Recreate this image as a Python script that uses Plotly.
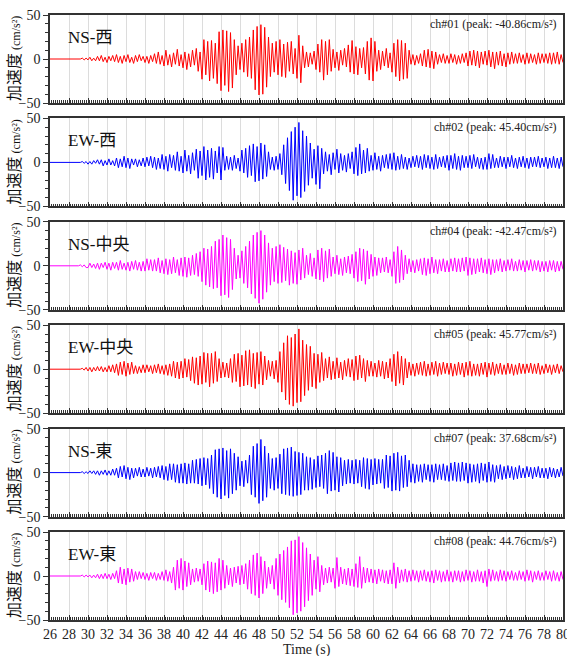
import plotly.graph_objects as go
from plotly.subplots import make_subplots

# ---------------- data ----------------
T_START = 29.0      # first sample after the quiet lead-in
DT = 0.2            # sampling step of the listed extremes (s)
T_QUIET = 26.0      # start of record (zero acceleration)

ns_west = [
    0, 0, 1, -1, 1,   -1, 2, -2, 1, -2,   3, -2, 4, -3, 2,   -4, 3, -2, 4, -3,
    5, -4, 3, -5, 4,   -3, 5, -4, 2, -5,   4, -3, 5, -2, 3,   -4, 3, -5, 4, -3,
    6, -5, 8, -6, 4,   -8, 10, -7, 5, -9,   7, -6, 11, -8, 5,   -10, 8, -12, 6, -9,
    10, -7, 12, -14, 8,   -23, 22, -18, 20, -25,   21, -22, 18, -28, 31,   -36, 33, -30, 32, -37,
    30, -33, 22, -18, 15,   -12, 18, -15, 22, -20,   25, -22, 33, -35, 37,   -40.86, 39, -40, 36, -32,
    25, -20, 18, -15, 20,   -18, 22, -20, 17, -21,   19, -14, 20, -17, 12,   -22, 27, -27, 15, -10,
    8, -9, 7, -6, 9,   -12, 17, -15, 22, -24,   20, -18, 22, -14, 11,   -10, 8, -13, 10, -7,
    12, -9, 16, -15, 21,   -17, 14, -18, 12, -10,   13, -17, 20, -24, 24,   -25, 20, -14, 10, -12,
    9, -8, 12, -10, 7,   -15, 18, -20, 22, -25,   21, -23, 18, -22, 10,   -6, 5, -7, 4, -5,
    6, -8, 10, -9, 11,   -10, 9, -11, 8, -6,   5, -4, 6, -5, 4,   -5, 6, -4, 5, -6,
    4, -5, 6, -4, 7,   -8, 9, -7, 10, -8,   9, -10, 8, -6, 9,   -7, 10, -9, 8, -11,
    8, -7, 9, -8, 6,   -9, 7, -6, 8, -5,   6, -5, 7, -4, 5,   -6, 7, -5, 6, -4,
    5, -6, 7, -5, 6,   -4, 6, -5, 7, -6,   7, -5, 8, -6, 5,   -4,
]

ew_west = [
    0, 0, 1, -1, 1,   -2, 1, -2, 2, -1,   3, -2, 3, -4, 2,   -3, 4, -3, 2, -4,
    5, -6, 4, -5, 7,   -6, 5, -7, 4, -3,   4, -5, 3, -4, 5,   -5, 6, -4, 7, -6,
    6, -8, 5, -7, 9,   -8, 7, -10, 9, -6,   8, -9, 12, -10, 7,   -12, 14, -10, 8, -13,
    11, -9, 15, -18, 13,   -15, 18, -20, 14, -17,   16, -19, 13, -12, 18,   -20, 17, -9, 7, -8,
    6, -9, 8, -7, 5,   -10, 14, -12, 16, -17,   19, -15, 21, -22, 18,   -21, 22, -19, 20, -16,
    12, -8, 6, -9, 7,   -8, 10, -14, 20, -24,   28, -32, 35, -43, 40,   -38, 45.40, -40, 36, -33,
    30, -26, 22, -18, 15,   -25, 19, -30, 16, -13,   12, -10, 9, -14, 11,   -8, 15, -12, 10, -9,
    8, -11, 10, -7, 12,   -13, 17, -15, 21, -13,   14, -12, 16, -10, 8,   -9, 11, -8, 7, -10,
    8, -6, 9, -7, 10,   -8, 11, -9, 7, -8,   9, -7, 6, -8, 5,   -6, 7, -5, 8, -6,
    7, -8, 9, -6, 8,   -7, 6, -8, 9, -7,   6, -5, 7, -6, 8,   -9, 8, -7, 10, -8,
    7, -9, 8, -6, 7,   -6, 8, -7, 9, -5,   6, -7, 5, -8, 6,   -8, 10, -7, 9, -6,
    5, -6, 7, -5, 6,   -7, 6, -5, 8, -6,   5, -7, 6, -5, 7,   -6, 5, -7, 6, -5,
    6, -5, 7, -6, 5,   -5, 6, -7, 5, -6,   7, -6, 5, -7, 6,   -5,
]

ns_center = [
    0, 1, -1, 1, -2,   -2, 3, -2, 2, -3,   3, -4, 3, -2, 4,   -4, 3, -5, 4, -3,
    4, -5, 6, -4, 3,   -5, 4, -6, 5, -4,   6, -5, 4, -6, 5,   -6, 8, -5, 7, -6,
    7, -6, 9, -8, 6,   -9, 8, -10, 7, -9,   10, -8, 7, -11, 9,   -12, 10, -13, 9, -11,
    12, -10, 14, -12, 16,   -18, 20, -22, 19, -24,   22, -26, 28, -25, 30,   -34, 35, -33, 32, -36,
    30, -27, 20, -15, 12,   -14, 17, -20, 22, -25,   28, -32, 35, -37, 38,   -42.47, 40, -38, 35, -30,
    26, -22, 20, -18, 22,   -20, 24, -19, 21, -17,   19, -22, 17, -20, 15,   -21, 18, -16, 20, -14,
    12, -10, 14, -12, 9,   -15, 18, -16, 20, -18,   17, -14, 19, -12, 10,   -9, 12, -10, 8, -11,
    10, -8, 11, -9, 13,   -14, 16, -18, 20, -17,   19, -21, 17, -15, 13,   -12, 10, -11, 9, -8,
    9, -7, 10, -8, 7,   -12, 16, -20, 22, -19,   18, -16, 12, -9, 8,   -7, 6, -8, 7, -6,
    8, -10, 9, -11, 8,   -9, 10, -8, 7, -9,   7, -6, 8, -7, 6,   -7, 8, -6, 9, -7,
    8, -7, 9, -6, 10,   -11, 9, -10, 8, -9,   8, -7, 9, -8, 7,   -9, 8, -10, 7, -8,
    7, -6, 8, -7, 6,   -6, 7, -5, 8, -6,   5, -6, 7, -5, 6,   -7, 6, -5, 7, -6,
    6, -5, 6, -7, 5,   -6, 5, -7, 6, -5,   6, -7, 5, -6, 5,   -4,
]

ew_center = [
    0, 0, 1, -1, 2,   -2, 2, -3, 2, -2,   3, -2, 3, -3, 2,   -3, 4, -3, 5, -4,
    6, -7, 8, -6, 9,   -8, 7, -6, 8, -5,   4, -5, 3, -4, 5,   -4, 5, -3, 4, -5,
    5, -4, 6, -5, 4,   -6, 5, -7, 6, -8,   9, -10, 8, -11, 9,   -10, 12, -9, 11, -13,
    14, -16, 13, -18, 15,   -17, 19, -15, 18, -20,   18, -16, 20, -14, 12,   -10, 8, -9, 7, -10,
    12, -15, 17, -14, 18,   -20, 16, -19, 21, -18,   22, -20, 18, -22, 19,   -17, 20, -18, 15, -12,
    10, -8, 9, -11, 10,   -15, 20, -26, 30, -35,   38, -40, 36, -42, 40,   -38, 45.77, -37, 33, -30,
    28, -24, 26, -20, 18,   -22, 17, -15, 19, -13,   12, -10, 14, -12, 9,   -11, 13, -10, 8, -12,
    10, -8, 12, -9, 11,   -13, 15, -12, 16, -10,   12, -14, 10, -8, 9,   -8, 7, -9, 10, -8,
    9, -11, 8, -10, 12,   -14, 17, -19, 20, -16,   15, -18, 12, -10, 8,   -7, 6, -8, 7, -6,
    8, -7, 9, -8, 6,   -7, 8, -6, 9, -8,   7, -6, 8, -5, 7,   -6, 7, -8, 6, -7,
    8, -6, 7, -9, 8,   -7, 9, -8, 6, -7,   6, -8, 7, -6, 8,   -9, 7, -6, 8, -7,
    6, -5, 7, -6, 5,   -6, 7, -5, 6, -7,   5, -6, 7, -5, 6,   -5, 6, -4, 7, -5,
    6, -5, 7, -6, 4,   -5, 6, -4, 5, -6,   5, -4, 6, -5, 4,   -3,
]

ns_east = [
    0, 0, 1, -1, 1,   -1, 2, -1, 2, -2,   2, -3, 2, -2, 3,   -3, 2, -3, 4, -3,
    5, -6, 7, -5, 8,   -7, 6, -8, 5, -6,   5, -4, 6, -5, 4,   -5, 6, -4, 5, -6,
    6, -5, 7, -6, 8,   -8, 7, -9, 10, -8,   10, -11, 9, -12, 10,   -12, 11, -13, 10, -12,
    14, -12, 15, -13, 16,   -15, 17, -14, 16, -18,   20, -24, 26, -28, 27,   -30, 28, -26, 25, -29,
    27, -24, 22, -20, 18,   -15, 13, -16, 14, -12,   20, -25, 30, -28, 33,   -35, 37.68, -32, 30, -28,
    22, -18, 16, -20, 17,   -18, 21, -24, 27, -25,   28, -26, 29, -27, 24,   -26, 23, -25, 22, -20,
    18, -20, 17, -19, 15,   -17, 19, -16, 20, -18,   22, -24, 25, -21, 23,   -20, 18, -22, 17, -15,
    14, -13, 15, -12, 14,   -13, 15, -12, 14, -16,   17, -18, 16, -19, 15,   -14, 16, -13, 15, -12,
    15, -18, 20, -17, 19,   -21, 22, -20, 23, -21,   19, -17, 20, -16, 14,   -11, 10, -12, 9, -10,
    9, -11, 10, -8, 9,   -10, 9, -11, 10, -8,   9, -8, 10, -9, 8,   -10, 11, -9, 12, -10,
    11, -10, 12, -9, 11,   -12, 10, -11, 9, -10,   10, -12, 11, -9, 10,   -11, 12, -10, 9, -11,
    8, -7, 9, -8, 7,   -7, 8, -6, 7, -8,   6, -7, 8, -6, 5,   -6, 7, -5, 6, -7,
    6, -5, 7, -6, 5,   -6, 5, -7, 6, -5,   5, -6, 4, -5, 6,   -4,
]

ew_east = [
    0, 0, 1, -1, 1,   -1, 1, -2, 1, -2,   2, -3, 2, -3, 3,   -3, 2, -4, 3, -3,
    6, -8, 10, -9, 8,   -10, 9, -7, 8, -6,   5, -4, 5, -3, 4,   -4, 3, -5, 4, -3,
    4, -5, 3, -4, 5,   -5, 7, -6, 5, -8,   10, -16, 18, -14, 20,   -16, 17, -12, 15, -10,
    8, -7, 9, -6, 8,   -10, 14, -16, 17, -18,   16, -20, 15, -18, 20,   -16, 18, -14, 12, -10,
    9, -12, 10, -8, 11,   -10, 12, -9, 14, -15,   18, -20, 24, -22, 26,   -25, 22, -20, 17, -14,
    10, -9, 12, -15, 20,   -22, 25, -27, 29, -30,   33, -36, 40, -44, 41,   -42, 44.76, -40, 38, -35,
    32, -28, 25, -22, 18,   -15, 22, -18, 12, -10,   9, -8, 10, -7, 9,   -14, 21, -12, 10, -9,
    8, -10, 9, -11, 8,   -12, 14, -13, 22, -14,   10, -8, 9, -7, 8,   -8, 7, -9, 8, -6,
    7, -8, 6, -9, 7,   -9, 15, -14, 10, -8,   7, -6, 8, -7, 6,   -6, 7, -5, 6, -7,
    6, -5, 7, -6, 5,   -7, 6, -8, 7, -5,   6, -7, 5, -6, 7,   -6, 5, -7, 6, -5,
    6, -7, 5, -6, 7,   -5, 6, -7, 5, -6,   7, -6, 5, -8, 6,   -12, 8, -6, 7, -5,
    5, -6, 7, -5, 6,   -6, 5, -4, 6, -5,   4, -5, 6, -4, 5,   -6, 7, -5, 6, -7,
    5, -4, 6, -5, 4,   -5, 6, -4, 5, -6,   6, -5, 4, -6, 5,   -4,
]

series = [ns_west, ew_west, ns_center, ew_center, ns_east, ew_east]
panel_labels = ["NS-西", "EW-西", "NS-中央", "EW-中央", "NS-東", "EW-東"]
channel_labels = ["ch#01", "ch#02", "ch#04", "ch#05", "ch#07", "ch#08"]
peak_values = [-40.86, 45.40, -42.47, 45.77, 37.68, 44.76]
line_colors = ["#ff0000", "#0000ff", "#ff00ff", "#ff0000", "#0000ff", "#ff00ff"]

X_RANGE = [26, 80]
Y_RANGE = [-50, 50]
x_tick_vals = list(range(26, 81, 2))
y_tick_vals = [-50, 0, 50]

# ---------------- figure ----------------
W, H = 567, 656
ML, MR, MT, MB = 50, 4, 15, 36
plot_h = H - MT - MB
panel_px = 88
step_px = 103.4

fig = make_subplots(rows=6, cols=1, shared_xaxes=False)

SERIF = "Times New Roman, Liberation Serif, serif"
AXIS_COLOR = "#333333"

for k, vals in enumerate(series):
    t = [T_QUIET] + [round(T_START + DT * i, 2) for i in range(len(vals))]
    y = [0] + vals
    fig.add_trace(
        go.Scatter(x=t, y=y, mode="lines",
                   line=dict(color=line_colors[k], width=1),
                   hoverinfo="skip", showlegend=False),
        row=k + 1, col=1)

    top = step_px * k
    bot = top + panel_px
    dom = [1 - bot / plot_h, 1 - top / plot_h]
    yname = "yaxis" if k == 0 else f"yaxis{k+1}"
    xname = "xaxis" if k == 0 else f"xaxis{k+1}"

    fig.layout[yname].update(
        domain=dom, range=Y_RANGE, tickvals=y_tick_vals,
        ticks="outside", ticklen=5, tickcolor=AXIS_COLOR,
        minor=dict(dtick=10, tick0=0, ticks="outside", ticklen=3, tickcolor=AXIS_COLOR, showgrid=False),
        showgrid=False, zeroline=False, automargin=False,
        showline=True, linecolor=AXIS_COLOR, linewidth=1.5, mirror=True,
        tickfont=dict(family=SERIF, size=14, color="#222222"),
    )
    fig.layout[xname].update(
        range=X_RANGE, tickvals=x_tick_vals,
        ticks="inside", ticklen=5, tickcolor=AXIS_COLOR,
        minor=dict(dtick=0.2, tick0=26, ticks="inside", ticklen=3, tickcolor=AXIS_COLOR, showgrid=False),
        showgrid=True, gridcolor="#dcdcdc", gridwidth=1,
        zeroline=False, automargin=False,
        showline=True, linecolor=AXIS_COLOR, linewidth=1.5, mirror=True,
        showticklabels=(k == 5), ticklabeloverflow="allow",
        tickfont=dict(family=SERIF, size=14, color="#222222"),
    )

    # panel name (top-left)
    fig.add_annotation(
        xref="paper", yref="paper", x=0, y=dom[1],
        xanchor="left", yanchor="top", xshift=16, yshift=-11,
        text=panel_labels[k], showarrow=False,
        font=dict(family="Times New Roman, Liberation Serif, Noto Sans CJK JP", size=17, color="#111111"))
    # channel / peak (top-right)
    fig.add_annotation(
        xref="paper", yref="paper", x=1, y=dom[1],
        xanchor="right", yanchor="top", xshift=-4, yshift=0,
        text=f"{channel_labels[k]} (peak: {peak_values[k]:.2f}cm/s²)", showarrow=False,
        font=dict(family=SERIF, size=12, color="#222222"))
    # y-axis label
    fig.add_annotation(
        xref="paper", yref="paper", x=0, y=(dom[0] + dom[1]) / 2,
        xanchor="center", yanchor="middle", xshift=-37,
        textangle=-90, showarrow=False,
        text="<span style='font-family:Noto Sans CJK JP; font-size:16px'>加速度</span>"
             "<span style='font-family:Times New Roman, Liberation Serif; font-size:12px'> (cm/s²)</span>",
        font=dict(size=16, color="#111111"))

fig.add_annotation(
    xref="paper", yref="paper", x=0.5, y=0, xanchor="center", yanchor="top",
    yshift=-20, text="Time (s)", showarrow=False,
    font=dict(family=SERIF, size=14, color="#222222"))

fig.update_layout(
    width=W, height=H,
    margin=dict(l=ML, r=MR, t=MT, b=MB, autoexpand=False),
    paper_bgcolor="white", plot_bgcolor="white",
)

fig.write_html("out.html")
